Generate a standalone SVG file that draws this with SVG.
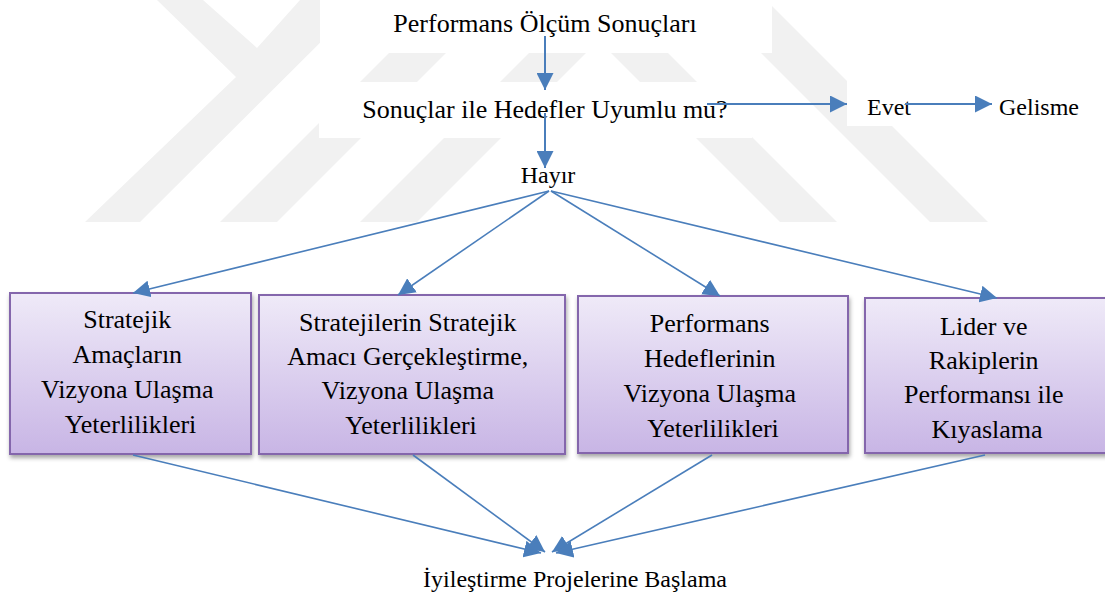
<svg xmlns="http://www.w3.org/2000/svg" width="1105" height="594" viewBox="0 0 1105 594">
  <style>
    .t { font-family: 'Liberation Serif', 'Times New Roman', serif; fill: #000; }
    .big { font-size: 26px; }
    .sm { font-size: 24px; }
    .box { stroke: #8466AC; stroke-width: 2; fill: url(#boxGrad); filter: url(#shadow); }
    .wm { fill: #f1f1f1; }
    .c2 { stroke: #4A7EBB; stroke-width: 2; fill: none; }
    .c1 { stroke: #4A7EBB; stroke-width: 1.6; fill: none; }
  </style>
  <defs>
    <linearGradient id="boxGrad" x1="0" y1="0" x2="0" y2="1">
      <stop offset="0" stop-color="#EFEAF8"/>
      <stop offset="1" stop-color="#C8B5E5"/>
    </linearGradient>
    <filter id="shadow" x="-10%" y="-10%" width="125%" height="130%">
      <feDropShadow dx="1" dy="3" stdDeviation="2" flood-color="#000" flood-opacity="0.35"/>
    </filter>
    <marker id="ah" markerUnits="userSpaceOnUse" markerWidth="17" markerHeight="17" refX="16" refY="8" orient="auto" viewBox="0 0 16 16">
      <path d="M0,0 L16,8 L0,16 z" fill="#4A7EBB"/>
    </marker>
  </defs>

  <rect width="1105" height="594" fill="#ffffff"/>

  <g id="watermark">
    <polygon class="wm" points="157,0 203,0 257,48 300,0 363,0 140,222 85,222 236,77"/>
    <polygon class="wm" points="220,222 277,222 499,0 442,0"/>
    <polygon class="wm" points="360,222 417,222 639,0 582,0"/>
    <polygon class="wm" points="780,222 837,222 615,0 558,0"/>
    <polygon class="wm" points="930,222 988,222 766,0 708,0"/>
  </g>

  <g id="textBackgrounds" fill="#ffffff">
    <rect x="320" y="0" width="452" height="53"/>
    <rect x="319" y="82" width="433" height="56"/>
    <rect x="847" y="60" width="160" height="66"/>
    <rect x="502" y="153" width="105" height="64"/>
  </g>

  <g id="n-olcum">
    <text class="t big" x="545" y="32" text-anchor="middle">Performans Ölçüm Sonuçları</text>
  </g>
  <g id="n-uyumlu">
    <text class="t big" x="545" y="118" text-anchor="middle">Sonuçlar ile Hedefler Uyumlu mu?</text>
  </g>
  <g id="n-evet">
    <text class="t sm" x="867" y="115">Evet</text>
  </g>
  <g id="n-gelisme">
    <text class="t sm" x="999" y="115">Gelisme</text>
  </g>
  <g id="n-hayir">
    <text class="t sm" x="548" y="183" text-anchor="middle">Hayır</text>
  </g>

  <g id="n-box1">
    <rect class="box" x="10" y="293" width="241" height="161"/>
    <text class="t big" text-anchor="middle">
      <tspan x="130.5" y="328">Stratejik</tspan>
      <tspan x="130.5" y="363">Amaçların</tspan>
      <tspan x="130.5" y="398">Vizyona Ulaşma</tspan>
      <tspan x="130.5" y="433">Yeterlilikleri</tspan>
    </text>
  </g>
  <g id="n-box2">
    <rect class="box" x="259" y="295" width="306" height="159"/>
    <text class="t big" text-anchor="middle">
      <tspan x="411" y="331">Stratejilerin Stratejik</tspan>
      <tspan x="411" y="365">Amacı Gerçekleştirme,</tspan>
      <tspan x="411" y="399">Vizyona Ulaşma</tspan>
      <tspan x="411" y="434">Yeterlilikleri</tspan>
    </text>
  </g>
  <g id="n-box3">
    <rect class="box" x="578" y="296" width="270" height="157"/>
    <text class="t big" text-anchor="middle">
      <tspan x="713" y="332">Performans</tspan>
      <tspan x="713" y="367">Hedeflerinin</tspan>
      <tspan x="713" y="402">Vizyona Ulaşma</tspan>
      <tspan x="713" y="437">Yeterlilikleri</tspan>
    </text>
  </g>
  <g id="n-box4">
    <rect class="box" x="865" y="298" width="245" height="155"/>
    <text class="t big" text-anchor="middle">
      <tspan x="987" y="335">Lider ve</tspan>
      <tspan x="987" y="369">Rakiplerin</tspan>
      <tspan x="987" y="403">Performansı ile</tspan>
      <tspan x="987" y="438">Kıyaslama</tspan>
    </text>
  </g>

  <g id="n-iyilestirme">
    <text class="t sm" x="575" y="587" text-anchor="middle">İyileştirme Projelerine Başlama</text>
  </g>

  <g id="connectors">
    <line class="c2" x1="545" y1="36" x2="545" y2="90" marker-end="url(#ah)"/>
    <line class="c2" x1="545" y1="113" x2="545" y2="168" marker-end="url(#ah)"/>
    <line class="c2" x1="707" y1="104" x2="847" y2="104" marker-end="url(#ah)"/>
    <line class="c2" x1="905" y1="104" x2="992" y2="104" marker-end="url(#ah)"/>

    <line class="c1" x1="549" y1="191" x2="133" y2="293" marker-end="url(#ah)"/>
    <line class="c1" x1="549" y1="191" x2="398" y2="295" marker-end="url(#ah)"/>
    <line class="c1" x1="551" y1="191" x2="720" y2="296" marker-end="url(#ah)"/>
    <line class="c1" x1="551" y1="191" x2="997" y2="298" marker-end="url(#ah)"/>

    <line class="c1" x1="133" y1="455" x2="541" y2="553" marker-end="url(#ah)"/>
    <line class="c1" x1="413" y1="455" x2="545" y2="552" marker-end="url(#ah)"/>
    <line class="c1" x1="712" y1="455" x2="552" y2="552" marker-end="url(#ah)"/>
    <line class="c1" x1="985" y1="455" x2="556" y2="553" marker-end="url(#ah)"/>
  </g>
</svg>
